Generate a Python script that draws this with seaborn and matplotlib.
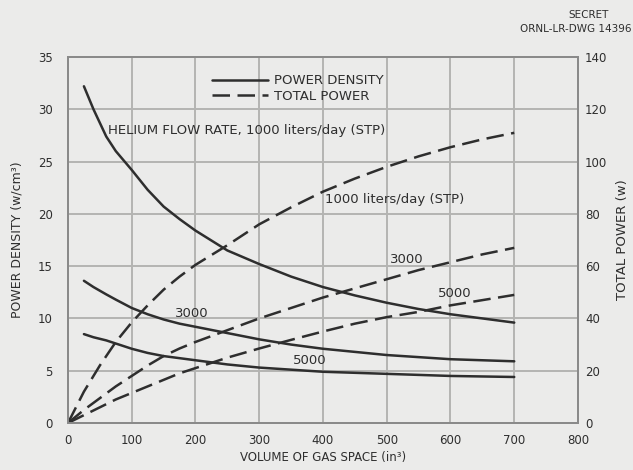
import matplotlib
matplotlib.use("Agg")
import matplotlib.pyplot as plt
import seaborn as sns
import pandas as pd

# volume of gas space (in^3)
vol_density = [25, 40, 60, 75, 100, 125, 150, 175, 200, 250, 300, 350, 400, 450, 500, 550, 600, 650, 700]
vol_power = [0, 25, 50, 75, 100, 125, 150, 175, 200, 250, 300, 350, 400, 450, 500, 550, 600, 650, 700]

# power density (w/cm^3), one list per helium flow rate
dens_1000 = [32.2, 30.0, 27.4, 26.0, 24.2, 22.3, 20.7, 19.5, 18.4, 16.5, 15.2, 14.0, 13.0, 12.2, 11.5, 10.9, 10.4, 10.0, 9.6]
dens_3000 = [13.6, 13.0, 12.3, 11.8, 11.0, 10.4, 9.9, 9.5, 9.2, 8.6, 8.0, 7.5, 7.1, 6.8, 6.5, 6.3, 6.1, 6.0, 5.9]
dens_5000 = [8.5, 8.2, 7.9, 7.6, 7.1, 6.7, 6.4, 6.2, 6.0, 5.6, 5.3, 5.1, 4.9, 4.8, 4.7, 4.6, 4.5, 4.45, 4.4]

# total power (w)
pow_1000 = [0, 12, 22, 31, 38.5, 45, 51, 56, 60.5, 68, 76, 82.5, 88.5, 93.5, 98, 102, 105.5, 108.5, 111]
pow_3000 = [0, 5, 9.5, 14, 18, 22, 25.6, 28.5, 31, 35.5, 40, 44, 48, 51.5, 55, 58.5, 61.5, 64.5, 67]
pow_5000 = [0, 3, 6, 9, 11.5, 14, 16.5, 19, 21, 25, 28.5, 31.8, 35, 38, 40.5, 42.5, 45, 47, 49]

flows = ["1000", "3000", "5000"]

dens = pd.DataFrame({"vol": vol_density * 3,
                     "val": dens_1000 + dens_3000 + dens_5000,
                     "flow": [f for f in flows for _ in vol_density]})
tot = pd.DataFrame({"vol": vol_power * 3,
                    "val": pow_1000 + pow_3000 + pow_5000,
                    "flow": [f for f in flows for _ in vol_power]})

sns.set_style("white")
plt.rcParams['font.family'] = ['DejaVu Sans']

ink = "#2e2e2e"
paper = "#ebebea"
grid_c = "#b4b4b2"
dash = (0, (7, 3))

fig = plt.figure(figsize=(6.33, 4.70), dpi=100, facecolor=paper)
ax = fig.add_axes([0.1074, 0.1, 0.8057, 0.7787])
ax.set_facecolor(paper)
ax2 = ax.twinx()

for f in flows:
    sns.lineplot(data=dens[dens.flow == f], x="vol", y="val", ax=ax,
                 color=ink, lw=1.8, legend=False)
    sns.lineplot(data=tot[tot.flow == f], x="vol", y="val", ax=ax2,
                 color=ink, lw=1.8, legend=False, linestyle=dash)

ax.set_xlim(0, 800)
ax.set_ylim(0, 35)
ax2.set_ylim(0, 140)
ax.set_xticks(range(0, 801, 100))
ax.set_yticks(range(0, 36, 5))
ax2.set_yticks(range(0, 141, 20))
ax.grid(True, color=grid_c, lw=1.4)
ax.set_axisbelow(True)

for a in (ax, ax2):
    for s in a.spines.values():
        s.set_color("#8a8a8a")
        s.set_linewidth(1.4)
    a.tick_params(labelsize=8.5, colors=ink, length=0)
ax.tick_params(axis="y", pad=11)
ax.tick_params(axis="x", pad=8)
ax2.tick_params(axis="y", pad=5)

ax.set_xlabel("VOLUME OF GAS SPACE (in³)", fontsize=8.5, color=ink, labelpad=3)
ax.set_ylabel("POWER DENSITY (w/cm³)", fontsize=9, color=ink, labelpad=10)
ax2.set_ylabel("TOTAL POWER (w)", fontsize=9.5, color=ink, labelpad=6)

# legend drawn as in the original drawing
ax.plot([], [], color=ink, lw=1.8, label="POWER DENSITY")
ax.plot([], [], color=ink, lw=1.8, linestyle=dash, label="TOTAL POWER")
ax.legend(loc="upper left", bbox_to_anchor=(0.26, 0.985), frameon=False,
          fontsize=9.5, handlelength=4.2, labelspacing=0.2, handletextpad=0.5,
          labelcolor=ink)

txt = dict(fontsize=9.5, color=ink, va="center")
ax.text(63, 28.0, "HELIUM FLOW RATE, 1000 liters/day (STP)", **txt)
ax2.text(403, 85.5, "1000 liters/day (STP)", **txt)
ax2.text(505, 62.5, "3000", **txt)
ax2.text(580, 49.5, "5000", **txt)
ax.text(168, 10.5, "3000", **txt)
ax.text(353, 6.0, "5000", **txt)

fig.text(0.93, 0.962, "SECRET", fontsize=7.5, color=ink, ha="center")
fig.text(0.997, 0.932, "ORNL-LR-DWG 14396", fontsize=7.5, color=ink, ha="right")

fig.savefig("out.png", dpi=100, facecolor=paper)
